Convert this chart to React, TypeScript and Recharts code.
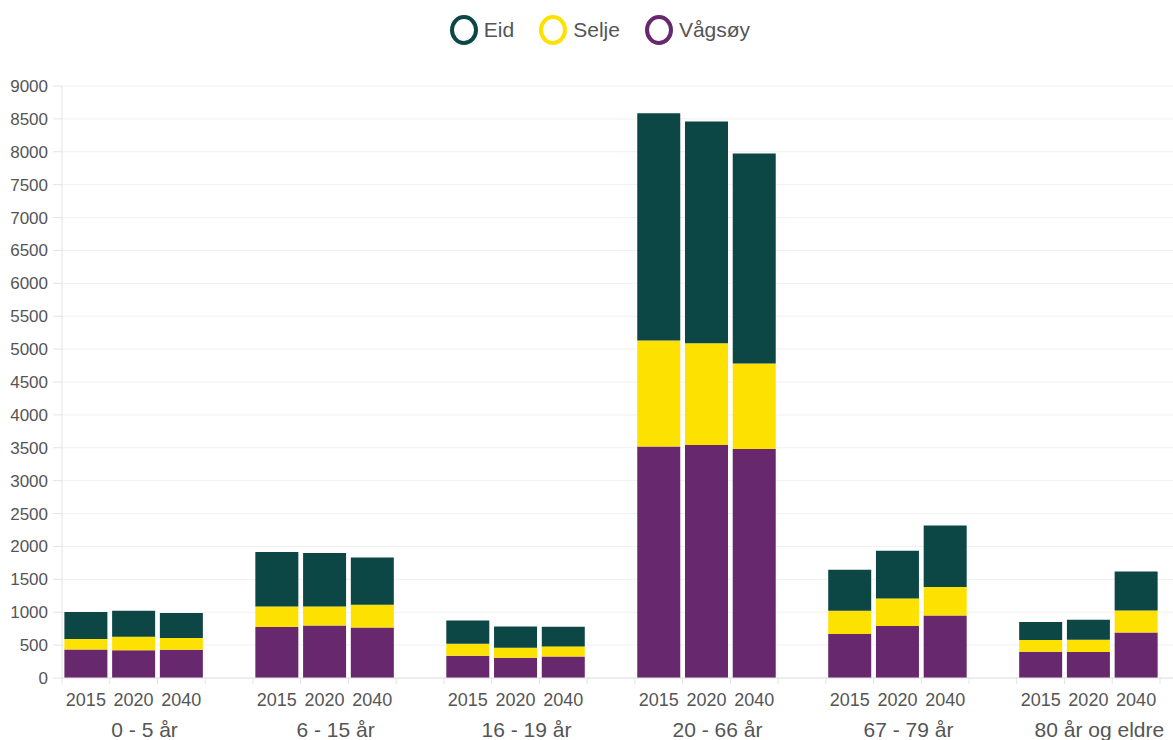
import React from "react";
import {
  BarChart,
  Bar,
  XAxis,
  YAxis,
  CartesianGrid,
  Legend,
} from "recharts";

const groups = ["0 - 5 år", "6 - 15 år", "16 - 19 år", "20 - 66 år", "67 - 79 år", "80 år og eldre"];
const years = ["2015", "2020", "2040"];

// one inner array per age group, values for 2015 / 2020 / 2040
const vagsoy = [
  [435, 420, 430],
  [775, 800, 769],
  [339, 308, 328],
  [3520, 3541, 3480],
  [669, 790, 951],
  [400, 395, 693],
];
const selje = [
  [158, 208, 178],
  [313, 288, 345],
  [182, 152, 152],
  [1611, 1550, 1301],
  [354, 420, 432],
  [177, 187, 334],
];
const eid = [
  [410, 395, 380],
  [827, 812, 719],
  [354, 324, 300],
  [3456, 3368, 3192],
  [623, 725, 936],
  [274, 304, 593],
];

const yTicks = [0, 500, 1000, 1500, 2000, 2500, 3000, 3500, 4000, 4500, 5000, 5500, 6000, 6500, 7000, 7500, 8000, 8500, 9000];

const EID = "#0c4745";
const SELJE = "#fde100";
const VAGSOY = "#67286d";
const TEXT = "#555";
const AXIS = "#e3e3e3";
const FONT = "'Liberation Sans', Arial, sans-serif";

const W = 1173;
const H = 740;
const Y_AXIS_W = 62;
const PAD_RIGHT = 13;

// rows: 3 years per group plus an empty slot between groups
type Row = { key: string; year: string; group: string; Eid?: number; Selje?: number; Vagsoy?: number };
const rows: Row[] = [];
groups.forEach((g, gi) => {
  if (gi > 0) rows.push({ key: `gap-${gi}`, year: "", group: "" });
  years.forEach((y, yi) => {
    rows.push({
      key: `${g}|${y}`,
      year: y,
      group: g,
      Vagsoy: vagsoy[gi][yi],
      Selje: selje[gi][yi],
      Eid: eid[gi][yi],
    });
  });
});

const BAND = (W - Y_AXIS_W - PAD_RIGHT) / rows.length;

function YearTick(props: any) {
  const { x, y, payload } = props;
  const row = rows.find((r) => r.key === payload.value);
  if (!row || !row.year) return <g />;
  const yi = years.indexOf(row.year);
  return (
    <g>
      <line x1={x - BAND / 2} x2={x - BAND / 2} y1={y} y2={y + 6} stroke={AXIS} />
      {yi === years.length - 1 && (
        <line x1={x + BAND / 2} x2={x + BAND / 2} y1={y} y2={y + 6} stroke={AXIS} />
      )}
      <text x={x} y={y + 28} textAnchor="middle" fill={TEXT} fontSize={18} fontFamily={FONT}>
        {row.year}
      </text>
      {yi === 1 && (
        <text x={x + 11} y={y + 59} textAnchor="middle" fill={TEXT} fontSize={21} fontFamily={FONT}>
          {row.group}
        </text>
      )}
    </g>
  );
}

const legendItems = [
  { name: "Eid", color: EID },
  { name: "Selje", color: SELJE },
  { name: "Vågsøy", color: VAGSOY },
];

function RingLegend() {
  return (
    <div
      style={{
        height: 86,
        display: "flex",
        justifyContent: "center",
        alignItems: "flex-start",
        paddingTop: 14,
        paddingLeft: 26,
        boxSizing: "border-box",
        fontFamily: FONT,
        fontSize: 21,
        color: TEXT,
      }}
    >
      {legendItems.map((it) => (
        <div key={it.name} style={{ display: "flex", alignItems: "center", margin: "0 12px" }}>
          <svg width={30} height={32}>
            <ellipse cx={15} cy={16} rx={12} ry={13} fill="none" stroke={it.color} strokeWidth={4} />
          </svg>
          <span style={{ marginLeft: 5 }}>{it.name}</span>
        </div>
      ))}
    </div>
  );
}

export default function App() {
  return (
    <div style={{ position: "absolute", left: 0, top: 0, width: W, height: H, background: "#fff", overflow: "hidden" }}>
      <BarChart
        width={W}
        height={H}
        data={rows}
        margin={{ top: 0, right: 0, left: 0, bottom: 0 }}
        barCategoryGap="5%"
      >
        <Legend verticalAlign="top" content={<RingLegend />} />
        <CartesianGrid vertical={false} stroke="#f0f0f0" />
        <XAxis
          dataKey="key"
          type="category"
          interval={0}
          height={62}
          padding={{ left: 0, right: PAD_RIGHT }}
          axisLine={{ stroke: AXIS }}
          tickLine={false}
          tickSize={0}
          tickMargin={0}
          tick={<YearTick />}
        />
        <YAxis
          width={Y_AXIS_W}
          domain={[0, 9000]}
          ticks={yTicks}
          interval={0}
          axisLine={{ stroke: AXIS }}
          tickLine={{ stroke: AXIS }}
          tickSize={9}
          tickMargin={5}
          tick={{ fill: TEXT, fontSize: 17, fontFamily: FONT }}
        />
        <Bar dataKey="Vagsoy" name="Vågsøy" stackId="a" fill={VAGSOY} isAnimationActive={false} />
        <Bar dataKey="Selje" name="Selje" stackId="a" fill={SELJE} isAnimationActive={false} />
        <Bar dataKey="Eid" name="Eid" stackId="a" fill={EID} isAnimationActive={false} />
      </BarChart>
    </div>
  );
}
